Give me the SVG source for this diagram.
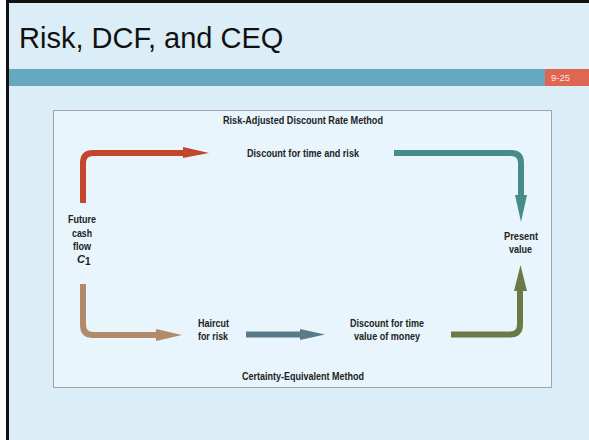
<svg xmlns="http://www.w3.org/2000/svg" width="589" height="440" viewBox="0 0 589 440">
  <style>
    .lbl { font-family: "Liberation Sans", Arial, sans-serif; font-size: 11px; font-weight: bold; fill: #222222; }
    .title { font-family: "Liberation Sans", Arial, sans-serif; font-size: 29px; fill: #111; }
    .pg { font-family: "Liberation Sans", Arial, sans-serif; font-size: 9.5px; fill: #fbe9e5; }
    .shaft { fill: none; stroke-width: 6; stroke-linejoin: round; }
  </style>

  <!-- page -->
  <rect x="0" y="0" width="589" height="440" fill="#ffffff"/>
  <rect x="7.5" y="1.5" width="600" height="500" fill="#DBEEF7" stroke="#111111" stroke-width="3"/>

  <!-- title area -->
  <text class="title" x="19" y="48">Risk, DCF, and CEQ</text>
  <rect x="9" y="69" width="536" height="17" fill="#65A8C0"/>
  <rect x="545" y="69" width="44" height="17" fill="#E06552"/>
  <text class="pg" x="551" y="81" textLength="19" lengthAdjust="spacingAndGlyphs">9-25</text>

  <!-- figure panel -->
  <rect x="53.5" y="110.5" width="498" height="277" fill="#E8F5FC" stroke="#A3A3A3" stroke-width="1"/>

  <!-- connectors -->
  <g id="connectors">
    <!-- future cash flow to risk-adjusted discounting -->
    <path class="shaft" stroke="#C4452E" d="M83 203 V163 Q83 153 93 153 H186"/>
    <polygon fill="#C4452E" points="183,147 209,153 183,158"/>
    <!-- risk-adjusted discounting to present value -->
    <path class="shaft" stroke="#468C88" d="M394 153 H511 Q521 153 521 163 V198"/>
    <polygon fill="#468C88" points="515,195 527,195 521,222"/>
    <!-- future cash flow to haircut -->
    <path class="shaft" stroke="#B08A6A" d="M83 284 V325 Q83 335 93 335 H159"/>
    <polygon fill="#B08A6A" points="156,329 182,335 156,341"/>
    <!-- haircut to time discounting -->
    <path class="shaft" stroke="#5A7A8A" d="M246 334.5 H303"/>
    <polygon fill="#5A7A8A" points="300,329 325,334.5 300,340"/>
    <!-- time discounting to present value -->
    <path class="shaft" stroke="#6B7A45" d="M451 334.5 H510 Q520 334.5 520 324.5 V288"/>
    <polygon fill="#6B7A45" points="514,291 527,291 520.5,265"/>
  </g>

  <!-- method captions -->
  <g id="rad-method">
    <text class="lbl" x="223" y="124" textLength="160" lengthAdjust="spacingAndGlyphs">Risk-Adjusted Discount Rate Method</text>
  </g>
  <g id="ceq-method">
    <text class="lbl" x="242" y="380" textLength="122" lengthAdjust="spacingAndGlyphs">Certainty-Equivalent Method</text>
  </g>

  <!-- nodes -->
  <g id="future-cash-flow">
    <text class="lbl" x="68" y="223" textLength="28" lengthAdjust="spacingAndGlyphs">Future</text>
    <text class="lbl" x="72" y="237" textLength="20" lengthAdjust="spacingAndGlyphs">cash</text>
    <text class="lbl" x="73" y="250" textLength="18" lengthAdjust="spacingAndGlyphs">flow</text>
    <text class="lbl" x="77" y="263" font-style="italic" font-weight="normal">C<tspan dy="2" font-style="normal" font-size="10">1</tspan></text>
  </g>
  <g id="discount-time-risk">
    <text class="lbl" x="247" y="157" textLength="112" lengthAdjust="spacingAndGlyphs">Discount for time and risk</text>
  </g>
  <g id="present-value">
    <text class="lbl" x="504" y="240" textLength="34" lengthAdjust="spacingAndGlyphs">Present</text>
    <text class="lbl" x="509" y="253" textLength="23" lengthAdjust="spacingAndGlyphs">value</text>
  </g>
  <g id="haircut">
    <text class="lbl" x="198" y="327" textLength="31" lengthAdjust="spacingAndGlyphs">Haircut</text>
    <text class="lbl" x="198" y="340" textLength="30" lengthAdjust="spacingAndGlyphs">for risk</text>
  </g>
  <g id="discount-time-value">
    <text class="lbl" x="350" y="327" textLength="74" lengthAdjust="spacingAndGlyphs">Discount for time</text>
    <text class="lbl" x="354" y="340" textLength="66" lengthAdjust="spacingAndGlyphs">value of money</text>
  </g>
</svg>
